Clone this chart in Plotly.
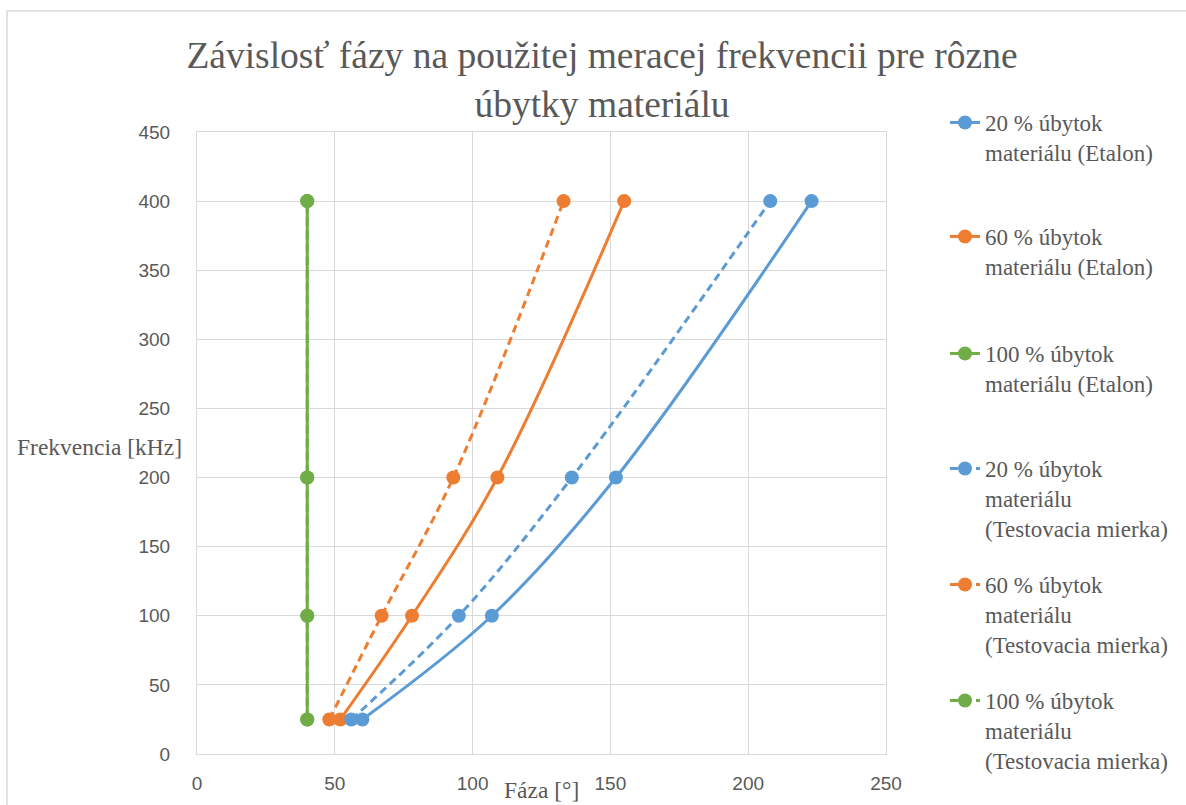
import plotly.graph_objects as go

# ---- data ----
freq_khz = [25, 100, 200, 400]
phase_20_etalon = [60, 107, 152, 223]
phase_60_etalon = [52, 78, 109, 155]
phase_100_etalon = [40, 40, 40, 40]
phase_20_test = [56, 95, 136, 208]
phase_60_test = [48, 67, 93, 133]
phase_100_test = [40, 40, 40, 40]

series_names = [
    "20 % úbytok<br>materiálu (Etalon)",
    "60 % úbytok<br>materiálu (Etalon)",
    "100 % úbytok<br>materiálu (Etalon)",
    "20 % úbytok<br>materiálu<br>(Testovacia mierka)",
    "60 % úbytok<br>materiálu<br>(Testovacia mierka)",
    "100 % úbytok<br>materiálu<br>(Testovacia mierka)",
]
series_values = [phase_20_etalon, phase_60_etalon, phase_100_etalon,
                 phase_20_test, phase_60_test, phase_100_test]
x_ticks = [0, 50, 100, 150, 200, 250]
y_ticks = [0, 50, 100, 150, 200, 250, 300, 350, 400, 450]

BLUE, ORANGE, GREEN = "#5B9BD5", "#ED7D31", "#70AD47"
colors = [BLUE, ORANGE, GREEN, BLUE, ORANGE, GREEN]
dashes = ["solid", "solid", "solid", "8px,5px", "8px,5px", "8px,5px"]
TXT = "#595959"
GRID = "#D9D9D9"

W, H = 1186, 805
L, R, T, B = 197, 300, 132, 51
pw, ph = W - L - R, H - T - B

def px_x(p):
    return (p - L) / pw

def px_y(p):
    return (H - B - p) / ph

fig = go.Figure()
legend_ids = ["legend", "legend2", "legend3", "legend4", "legend5", "legend6"]
for name, vals, c, d, lid in zip(series_names, series_values, colors, dashes, legend_ids):
    fig.add_trace(go.Scatter(
        x=vals, y=freq_khz, name=name, mode="lines+markers",
        line=dict(color=c, width=3, dash=d, shape="spline"),
        marker=dict(color=c, size=14, symbol="circle"),
        legend=lid, hoverinfo="skip",
    ))

legend_centers = [124, 238, 355, 470, 586, 702]
layout_legends = {}
for lid, cy in zip(legend_ids, legend_centers):
    layout_legends[lid] = dict(
        x=px_x(945), y=px_y(cy - 23), xanchor="left", yanchor="top",
        valign="top", bgcolor="rgba(0,0,0,0)",
        font=dict(family="Liberation Serif", size=23, color=TXT),
        itemwidth=30,
    )

fig.update_layout(
    width=W, height=H,
    margin=dict(l=L, r=R, t=T, b=B),
    paper_bgcolor="white", plot_bgcolor="white",
    title=dict(
        text="Závislosť fázy na použitej meracej frekvencii pre rôzne<br>úbytky materiálu",
        x=602 / W, xanchor="center", xref="container",
        y=1 - 68 / H, yanchor="top", yref="container",
        font=dict(family="Liberation Serif", size=37.5, color=TXT),
    ),
    xaxis=dict(
        range=[0, 250], tickvals=x_ticks, showgrid=True, gridcolor=GRID, gridwidth=1,
        zeroline=False, showline=True, linecolor=GRID, linewidth=1, mirror=True,
        ticks="", ticklabelstandoff=12,
        tickfont=dict(family="Liberation Sans", size=19, color=TXT),
    ),
    yaxis=dict(
        range=[0, 450], tickvals=y_ticks, showgrid=True, gridcolor=GRID, gridwidth=1,
        zeroline=False, showline=True, linecolor=GRID, linewidth=1, mirror=True,
        ticks="", ticklabelstandoff=22,
        tickfont=dict(family="Liberation Sans", size=19, color=TXT),
    ),
    showlegend=True,
    annotations=[
        dict(text="Frekvencia [kHz]", xref="paper", yref="paper",
             x=px_x(184), y=px_y(447), xanchor="right", yanchor="middle",
             showarrow=False, font=dict(family="Liberation Serif", size=23.5, color=TXT)),
        dict(text="Fáza [°]", xref="paper", yref="paper",
             x=px_x(541), y=px_y(790), xanchor="center", yanchor="middle",
             showarrow=False, font=dict(family="Liberation Serif", size=23.5, color=TXT)),
    ],
    shapes=[
        dict(type="rect", xref="paper", yref="paper",
             x0=px_x(7), x1=px_x(1230), y0=px_y(850), y1=px_y(11),
             line=dict(color=GRID, width=1.5), fillcolor="rgba(0,0,0,0)", layer="below"),
    ],
    **layout_legends,
)

fig.write_html("out.html", config={"displayModeBar": False},
               post_script="document.body.style.margin='0';")
